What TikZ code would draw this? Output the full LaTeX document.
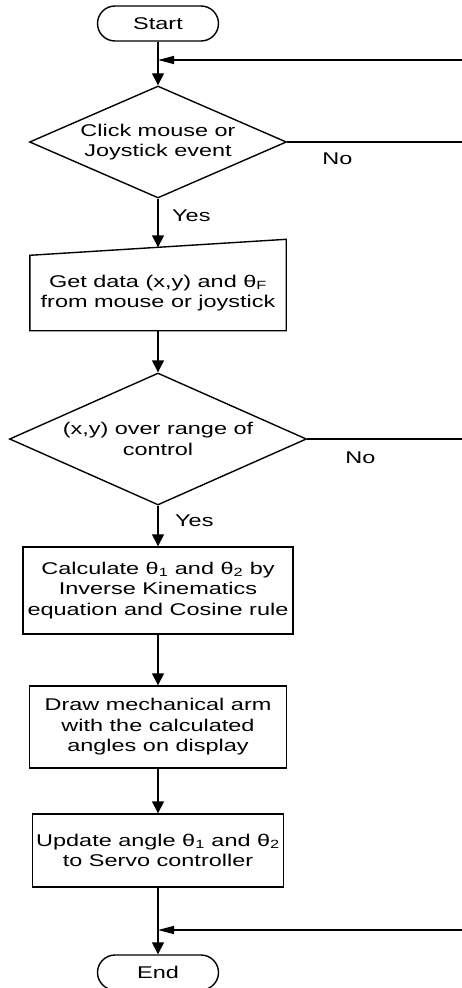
\documentclass[tikz,border=0pt]{standalone}
\usepackage{fontspec}
\setmainfont{Liberation Sans}[FakeStretch=1.38]
\usepackage{tikz}
\usetikzlibrary{shapes.geometric, arrows.meta, positioning}
\tikzstyle{terminal} = [rectangle, rounded corners=17.5pt, minimum width=121pt, minimum height=35pt, draw=black, line width=1.4pt]
\tikzstyle{decision} = [diamond, inner sep=0pt, inner xsep=-50pt, align=center, draw=black, line width=1.4pt]
\tikzstyle{process}  = [rectangle, inner sep=2pt, align=center, draw=black, line width=1.4pt]
\tikzstyle{answer}   = [inner sep=0pt]
\tikzstyle{arrow}    = [line width=1.4pt, -{Triangle[length=12pt,width=12pt]}]
\tikzstyle{back}     = [line width=1.4pt, -{Triangle[length=16pt,width=8pt]}]
\tikzstyle{line}     = [line width=1.4pt]

\begin{document}
\begin{tikzpicture}[x=1pt, y=1pt, node distance=120pt, every node/.style={font=\fontsize{17}{20.5}\selectfont}]
    \useasboundingbox (0,0) rectangle (462,-988);

    \node (start)   [terminal] at (158,-23.5) {Start};
    \node (click)   [decision, minimum width=257pt, minimum height=112pt, below of=start, yshift=1.5pt] {Click mouse or\\Joystick event};
    \node (getdata) [process, draw=none, minimum width=255pt, minimum height=74pt, below of=click, yshift=-31pt] {Get data (x,y) and θ\textsubscript{F}\\from mouse or joystick};
    \node (range)   [decision, minimum width=297pt, minimum height=132pt, below of=getdata, yshift=-26pt] {(x,y) over range of\\control};
    \node (calc)    [process, minimum width=270pt, minimum height=87pt, below of=range, yshift=-31.5pt] {Calculate θ\textsubscript{1} and θ\textsubscript{2} by\\Inverse Kinematics\\equation and Cosine rule};
    \node (arm)     [process, minimum width=257pt, minimum height=82pt, below of=calc, yshift=-16.5pt] {Draw mechanical arm\\with the calculated\\angles on display};
    \node (servo)   [process, minimum width=251pt, minimum height=73pt, below of=arm, yshift=-3.5pt] {Update angle θ\textsubscript{1} and θ\textsubscript{2}\\to Servo controller};
    \node (end)     [terminal, below of=servo, yshift=-2pt] {End};

    % manual input outline, slanted top
    \draw [line] (getdata.south west) -- (getdata.north west) -- ([yshift=16pt]getdata.north east) -- (getdata.south east) -- cycle;
    \coordinate (slant) at ([yshift=8pt]getdata.north);

    \node (no1)  [answer, right=35pt of click.east, yshift=-17pt] {No};
    \node (no2)  [answer, right=38pt of range.east, yshift=-19pt] {No};
    \node (yes1) [answer, right=14pt of click.south, yshift=-17pt] {Yes};
    \node (yes2) [answer, right=17pt of range.south, yshift=-15pt] {Yes};

    \coordinate (loop1) at (462,-60);
    \coordinate (loop2) at (462,-930);

    \draw [arrow] (start) -- (click);
    \draw [arrow] (click) -- (slant);
    \draw [arrow] (getdata) -- (range);
    \draw [arrow] (range) -- (calc);
    \draw [arrow] (calc) -- (arm);
    \draw [arrow] (arm) -- (servo);
    \draw [arrow] (servo) -- (end);
    \draw [back] (loop1) -- (loop1 -| start);
    \draw [back] (loop2) -- (loop2 -| end);
    \draw [line] (click.east) -- (click.east -| loop1);
    \draw [line] (range.east) -- (range.east -| loop1);
  \end{tikzpicture}
\end{document}
